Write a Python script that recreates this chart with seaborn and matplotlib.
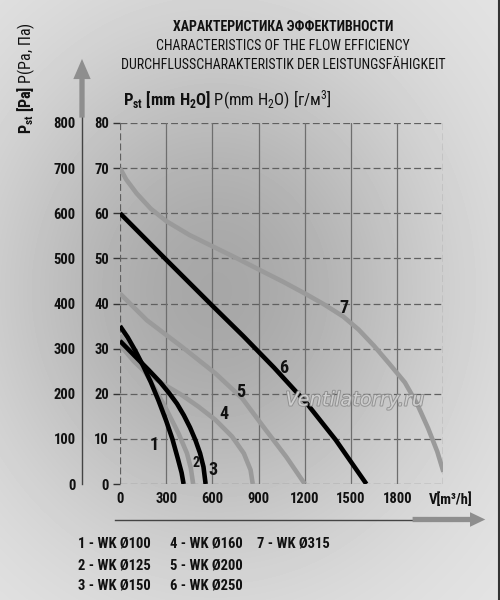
import numpy as np
import pandas as pd
import matplotlib
matplotlib.use("Agg")
import matplotlib.pyplot as plt
import seaborn as sns
from matplotlib import font_manager as fm
from matplotlib import patheffects as pe

# ---------------- data ----------------
flow_1 = [0, 50, 100, 150, 200, 250, 300, 340, 375, 400, 413]
pres_1 = [350, 325, 295, 262, 226, 185, 140, 100, 57, 25, 0]

flow_2 = [0, 90, 150, 207, 293, 380, 435, 460, 475]
pres_2 = [330, 285, 255, 223, 171, 112, 68, 35, 0]

flow_3 = [0, 98, 185, 260, 320, 370, 415, 455, 490, 520, 542, 556]
pres_3 = [317, 283, 253, 226, 201, 178, 152, 125, 97, 68, 38, 0]

flow_4 = [0, 90, 185, 293, 402, 511, 620, 728, 804, 848, 862]
pres_4 = [308, 272, 241, 219, 197, 171, 142, 105, 68, 31, 0]

flow_5 = [0, 174, 402, 620, 793, 946, 1080, 1200]
pres_5 = [422, 363, 304, 245, 190, 120, 60, 0]

flow_6 = [0, 300, 600, 800, 1000, 1212, 1400, 1600]
pres_6 = [600, 497, 395, 328, 258, 179, 98, 0]

flow_7 = [0, 40, 108, 200, 303, 450, 605, 760, 909, 1060, 1212, 1330,
          1450, 1550, 1650, 1750, 1850, 1930, 2000, 2060, 2100]
pres_7 = [700, 675, 644, 610, 582, 552, 526, 500, 474, 448, 420, 397,
          371, 342, 306, 266, 225, 177, 124, 72, 27]

curve_ids = ["1", "2", "3", "4", "5", "6", "7"]
curve_colors = ["#000000", "#9a9a9a", "#000000", "#9a9a9a", "#9a9a9a", "#000000", "#9a9a9a"]
label_x = [224, 496, 602, 676, 783, 1061, 1457]
label_y = [86, 46, 31, 155, 204, 256, 389]
label_size = [13, 10, 13, 13, 13, 13, 13]

legend_labels = ["1 - WK Ø100", "2 - WK Ø125", "3 - WK Ø150",
                 "4 - WK Ø160", "5 - WK Ø200", "6 - WK Ø250",
                 "7 - WK Ø315"]

x_ticks = [0, 300, 600, 900, 1200, 1500, 1800]
pa_ticks = [0, 100, 200, 300, 400, 500, 600, 700, 800]
mm_labels = ["0", "10", "20", "30", "40", "50", "60", "70", "80"]

title_lines = ["ХАРАКТЕРИСТИКА ЭФФЕКТИВНОСТИ",
               "CHARACTERISTICS OF THE FLOW EFFICIENCY",
               "DURCHFLUSSCHARAKTERISTIK DER LEISTUNGSFÄHIGKEIT"]

# ---------------- fonts ----------------
sns.set_theme(style="white")
cond_family, cond_stretch = "Liberation Sans", "normal"
pref = ["Liberation Sans Narrow", "DejaVu Sans Condensed", "Noto Sans Condensed",
        "Roboto Condensed", "Open Sans Condensed", "Noto Sans", "Open Sans", "Roboto"]
cands = []
for f in fm.fontManager.ttflist:
    st = f.stretch
    is_cond = (isinstance(st, str) and "condensed" in st) or \
              (isinstance(st, (int, float)) and st < 500) or \
              ("Narrow" in f.name) or ("Condensed" in f.name)
    if is_cond and "extra" not in str(st) and "ultra" not in str(st):
        cands.append((f.name, st))
for p in pref:
    hit = [c for c in cands if c[0] == p]
    if hit:
        cond_family = p
        cond_stretch = hit[0][1] if isinstance(hit[0][1], str) else "condensed"
        break

fam = [cond_family, "DejaVu Sans"]
plt.rcParams["font.family"] = fam
plt.rcParams["mathtext.fontset"] = "custom"
plt.rcParams["mathtext.rm"] = cond_family
plt.rcParams["mathtext.bf"] = cond_family + ":bold"
plt.rcParams["mathtext.it"] = cond_family + ":italic"
TXT = dict(fontfamily=fam, fontstretch=cond_stretch, color="#111111")

# ---------------- figure & background ----------------
W, H = 500, 600
fig = plt.figure(figsize=(W / 100, H / 100), dpi=100)

bg = fig.add_axes([0, 0, 1, 1], zorder=0)
yy, xx = np.mgrid[0:H, 0:W]
r = np.sqrt(((xx - 215) / 235.0) ** 2 + ((yy - 290) / 265.0) ** 2)
grad = 0.905 - 0.25 * np.exp(-1.0 * r ** 2)
bg.imshow(grad, cmap="gray", vmin=0, vmax=1, extent=[0, W, H, 0], aspect="auto",
          interpolation="bilinear")
bg.plot([498.5, 498.5], [0, H], color="#333333", lw=1.5)
bg.set_xlim(0, W); bg.set_ylim(H, 0)
bg.axis("off")

def px(x0, y0, w, h):
    return [x0 / W, 1 - (y0 + h) / H, w / W, h / H]

X0, X1, Y0, Y1 = 120, 443.4, 123, 484
ax = fig.add_axes(px(X0, Y0, X1 - X0, Y1 - Y0), zorder=2)
ax.patch.set_alpha(0)
ax.set_xlim(0, 2100)
ax.set_ylim(0, 800)
for s in ax.spines.values():
    s.set_visible(False)

dash = (0, (5.5, 2.6))
for v in pa_ticks:
    ax.axhline(v, color="#606060", lw=0.9, ls=dash, zorder=1)
for v in x_ticks[1:]:
    ax.axvline(v, color="#6e6e6e", lw=0.9, zorder=1)
ax.axvline(0, color="#606060", lw=0.9, ls=dash, zorder=1)
ax.axvline(2100, color="#606060", lw=0.9, ls=dash, zorder=1)

flows = [flow_1, flow_2, flow_3, flow_4, flow_5, flow_6, flow_7]
press = [pres_1, pres_2, pres_3, pres_4, pres_5, pres_6, pres_7]
order = [6, 4, 3, 1, 5, 0, 2]
for i in order:
    df = pd.DataFrame({"flow": flows[i], "pressure": press[i]})
    sns.lineplot(data=df, x="flow", y="pressure", ax=ax, color=curve_colors[i],
                 lw=3.3, sort=False, estimator=None, solid_capstyle="butt",
                 solid_joinstyle="round", zorder=3)
ax.set_xlabel(""); ax.set_ylabel("")

for i, c in enumerate(curve_ids):
    ax.text(label_x[i], label_y[i], c, ha="center", va="center",
            fontsize=label_size[i], fontweight="semibold", zorder=4, **TXT)

ax.set_xticks(x_ticks)
ax.set_xticklabels([str(v) for v in x_ticks])
ax.set_yticks(pa_ticks)
ax.set_yticklabels(mm_labels)
ax.tick_params(axis="y", direction="out", length=5, width=1, color="#333333",
               pad=3, left=True)
ax.tick_params(axis="x", length=0, pad=6)
for t in ax.get_xticklabels() + ax.get_yticklabels():
    t.set_fontweight("bold"); t.set_fontsize(10.5)
    t.set_fontfamily(fam); t.set_fontstretch(cond_stretch); t.set_color("#111111")

fig.text(451 / W, 1 - 500 / H, "V[m³/h]", ha="center", va="center",
         fontsize=10.5, fontweight="bold", **TXT)

ax.text(1526, 186, "Ventilatorry.ru", ha="center", va="center", fontsize=14,
        fontstyle="italic", fontfamily="DejaVu Sans", color="#d8d8d8", alpha=0.85,
        zorder=5, path_effects=[pe.withStroke(linewidth=1.4, foreground="#8a8a8a")])

# ---------------- left Pa axis ----------------
axp = fig.add_axes(px(82, Y0, 1, Y1 - Y0), zorder=2)
axp.patch.set_alpha(0)
axp.set_ylim(0, 800)
axp.set_xticks([])
for k, s in axp.spines.items():
    s.set_visible(k == "left")
axp.spines["left"].set_color("#444444")
axp.spines["left"].set_linewidth(1.0)
axp.spines["left"].set_bounds(0, 814)
axp.set_yticks(pa_ticks)
axp.set_yticklabels([str(v) for v in pa_ticks])
axp.tick_params(axis="y", direction="inout", length=5, width=1, color="#444444", pad=2)
for t in axp.get_yticklabels():
    t.set_fontweight("bold"); t.set_fontsize(10.5)
    t.set_fontfamily(fam); t.set_fontstretch(cond_stretch); t.set_color("#111111")
axp.annotate("", xy=(0, 942), xytext=(0, 812), xycoords="data", annotation_clip=False,
             arrowprops=dict(arrowstyle="simple,head_length=1.45,head_width=1.25,tail_width=0.38",
                             mutation_scale=10, color="#8e8e8e", shrinkA=0, shrinkB=0, lw=0))

# ---------------- bottom V axis ----------------
axv = fig.add_axes(px(X0, 519, X1 - X0, 0.5), zorder=2)
axv.patch.set_alpha(0)
axv.set_xlim(0, 2100)
axv.set_yticks([])
for k, s in axv.spines.items():
    s.set_visible(k == "bottom")
axv.spines["bottom"].set_color("#444444")
axv.spines["bottom"].set_linewidth(1.0)
axv.spines["bottom"].set_bounds(-30, 1905)
axv.set_xticks(x_ticks)
axv.set_xticklabels([])
axv.tick_params(axis="x", direction="inout", length=5, width=1, color="#444444")
axv.annotate("", xy=(2372, 0), xytext=(1900, 0), xycoords=("data", "axes fraction"),
             annotation_clip=False,
             arrowprops=dict(arrowstyle="simple,head_length=1.1,head_width=1.05,tail_width=0.38",
                             mutation_scale=10, color="#8e8e8e", shrinkA=0, shrinkB=0, lw=0))

# ---------------- titles ----------------
fig.text(283 / W, 1 - 27 / H, title_lines[0], ha="center", va="center",
         fontsize=10, fontweight="bold", **TXT)
fig.text(283 / W, 1 - 46 / H, title_lines[1], ha="center", va="center",
         fontsize=10, **TXT)
fig.text(283 / W, 1 - 65 / H, title_lines[2], ha="center", va="center",
         fontsize=10, **TXT)

fig.text(123 / W, 1 - 100 / H,
         r"$\mathbf{P_{st}\ [mm\ H_2O]}$ P(mm H$_2$O) [г/м$^3$]",
         ha="left", va="center", fontsize=12, **TXT)

fig.text(26 / W, 1 - 78 / H, r"$\mathbf{P_{st}\ [Pa]}$ P(Pa, Па)",
         ha="center", va="center", rotation=90, fontsize=11.5, **TXT)

# ---------------- legend ----------------
col_x = [78, 170, 257]
row_y = [543, 565, 585]
for i, lab in enumerate(legend_labels):
    c, rr = divmod(i, 3)
    fig.text(col_x[c] / W, 1 - row_y[rr] / H, lab, ha="left", va="center",
             fontsize=10.5, fontweight="bold", **TXT)

fig.savefig("out.png", dpi=100)
